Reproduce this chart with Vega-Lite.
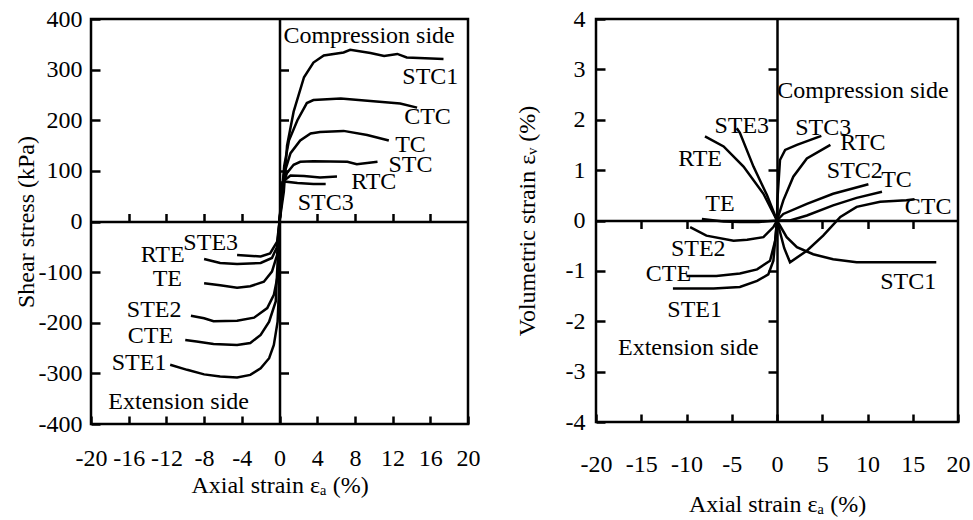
{
  "$schema": "https://vega.github.io/schema/vega-lite/v6.json",
  "autosize": {"type": "pad"},
  "padding": {"left": 12, "top": 5, "right": 0, "bottom": 0},
  "background": "white",
  "spacing": 128,
  "bounds": "flush",
  "config": {
    "view": {"stroke": "black", "strokeWidth": 2.5},
    "axis": {
      "grid": false,
      "labelFont": "Liberation Serif",
      "labelFontSize": 24,
      "labelColor": "black",
      "labelOverlap": false,
      "labelFlush": false,
      "labelExpr": "datum.value + ''",
      "titleFont": "Liberation Serif",
      "titleFontSize": 24,
      "titleFontWeight": "normal",
      "titleColor": "black",
      "tickColor": "black",
      "tickWidth": 2.5,
      "domainColor": "black",
      "domainWidth": 2.5
    },
    "text": {"font": "Liberation Serif", "fontSize": 24, "color": "black"}
  },
  "datasets": {
    "stress": [
      {"test": "STC1", "ax": 0, "q": 0}, {"test": "STC1", "ax": 0.46, "q": 59}, {"test": "STC1", "ax": 0.8, "q": 150}, {"test": "STC1", "ax": 1.5, "q": 217}, {"test": "STC1", "ax": 2.6, "q": 285}, {"test": "STC1", "ax": 3.6, "q": 314}, {"test": "STC1", "ax": 4.7, "q": 328}, {"test": "STC1", "ax": 6.8, "q": 334}, {"test": "STC1", "ax": 7.5, "q": 339}, {"test": "STC1", "ax": 9.65, "q": 333}, {"test": "STC1", "ax": 11.1, "q": 327}, {"test": "STC1", "ax": 12.5, "q": 331}, {"test": "STC1", "ax": 13.5, "q": 324}, {"test": "STC1", "ax": 17.4, "q": 321},
      {"test": "CTC", "ax": 0, "q": 0}, {"test": "CTC", "ax": 0.5, "q": 110}, {"test": "CTC", "ax": 1.0, "q": 160}, {"test": "CTC", "ax": 1.9, "q": 200}, {"test": "CTC", "ax": 2.9, "q": 234}, {"test": "CTC", "ax": 3.6, "q": 240}, {"test": "CTC", "ax": 6.5, "q": 243}, {"test": "CTC", "ax": 9.65, "q": 238}, {"test": "CTC", "ax": 12.8, "q": 233}, {"test": "CTC", "ax": 14.6, "q": 225},
      {"test": "TC", "ax": 0, "q": 0}, {"test": "TC", "ax": 0.46, "q": 92}, {"test": "TC", "ax": 1.17, "q": 135}, {"test": "TC", "ax": 2.2, "q": 160}, {"test": "TC", "ax": 3.3, "q": 174}, {"test": "TC", "ax": 4.3, "q": 177}, {"test": "TC", "ax": 6.8, "q": 179}, {"test": "TC", "ax": 9.3, "q": 171}, {"test": "TC", "ax": 11.6, "q": 160},
      {"test": "STC", "ax": 0, "q": 0}, {"test": "STC", "ax": 0.4, "q": 75}, {"test": "STC", "ax": 0.8, "q": 96}, {"test": "STC", "ax": 1.5, "q": 112}, {"test": "STC", "ax": 2.2, "q": 118}, {"test": "STC", "ax": 3.6, "q": 119}, {"test": "STC", "ax": 7.2, "q": 118}, {"test": "STC", "ax": 8.2, "q": 113}, {"test": "STC", "ax": 10.4, "q": 118},
      {"test": "RTC", "ax": 0, "q": 0}, {"test": "RTC", "ax": 0.3, "q": 78}, {"test": "RTC", "ax": 1.17, "q": 91}, {"test": "RTC", "ax": 2.6, "q": 90}, {"test": "RTC", "ax": 4.3, "q": 87}, {"test": "RTC", "ax": 6.1, "q": 89},
      {"test": "STC3", "ax": 0, "q": 0}, {"test": "STC3", "ax": 0.46, "q": 79}, {"test": "STC3", "ax": 1.9, "q": 76}, {"test": "STC3", "ax": 3.6, "q": 74}, {"test": "STC3", "ax": 4.9, "q": 74},
      {"test": "STE3", "ax": -4.5, "q": -66}, {"test": "STE3", "ax": -2.0, "q": -69}, {"test": "STE3", "ax": -1.0, "q": -63}, {"test": "STE3", "ax": -0.25, "q": -40}, {"test": "STE3", "ax": 0, "q": 0},
      {"test": "RTE", "ax": -8.0, "q": -74}, {"test": "RTE", "ax": -6.3, "q": -82}, {"test": "RTE", "ax": -4.5, "q": -84}, {"test": "RTE", "ax": -2.0, "q": -82}, {"test": "RTE", "ax": -0.8, "q": -72}, {"test": "RTE", "ax": -0.25, "q": -50}, {"test": "RTE", "ax": 0, "q": 0},
      {"test": "TE", "ax": -8.0, "q": -122}, {"test": "TE", "ax": -6.3, "q": -126}, {"test": "TE", "ax": -4.5, "q": -131}, {"test": "TE", "ax": -3.1, "q": -128}, {"test": "TE", "ax": -1.66, "q": -119}, {"test": "TE", "ax": -0.8, "q": -99}, {"test": "TE", "ax": -0.25, "q": -66}, {"test": "TE", "ax": 0, "q": 0},
      {"test": "STE2", "ax": -9.4, "q": -186}, {"test": "STE2", "ax": -8.0, "q": -191}, {"test": "STE2", "ax": -7.0, "q": -197}, {"test": "STE2", "ax": -4.5, "q": -196}, {"test": "STE2", "ax": -2.7, "q": -190}, {"test": "STE2", "ax": -1.3, "q": -171}, {"test": "STE2", "ax": -0.6, "q": -145}, {"test": "STE2", "ax": -0.1, "q": -99}, {"test": "STE2", "ax": 0, "q": 0},
      {"test": "CTE", "ax": -10.0, "q": -234}, {"test": "CTE", "ax": -8.8, "q": -237}, {"test": "CTE", "ax": -7.0, "q": -242}, {"test": "CTE", "ax": -4.5, "q": -244}, {"test": "CTE", "ax": -3.1, "q": -240}, {"test": "CTE", "ax": -2.0, "q": -224}, {"test": "CTE", "ax": -1.1, "q": -198}, {"test": "CTE", "ax": -0.4, "q": -158}, {"test": "CTE", "ax": 0, "q": 0},
      {"test": "STE1", "ax": -11.6, "q": -283}, {"test": "STE1", "ax": -9.8, "q": -293}, {"test": "STE1", "ax": -8.0, "q": -302}, {"test": "STE1", "ax": -6.3, "q": -306}, {"test": "STE1", "ax": -4.5, "q": -308}, {"test": "STE1", "ax": -3.1, "q": -303}, {"test": "STE1", "ax": -2.0, "q": -290}, {"test": "STE1", "ax": -1.1, "q": -270}, {"test": "STE1", "ax": -0.6, "q": -244}, {"test": "STE1", "ax": -0.2, "q": -198}, {"test": "STE1", "ax": -0.05, "q": -132}, {"test": "STE1", "ax": 0, "q": 0}
    ],
    "stressLabels": [
      {"label": "Compression side", "ax": 9.5, "q": 366},
      {"label": "STC1", "ax": 16.0, "q": 285},
      {"label": "CTC", "ax": 15.7, "q": 207},
      {"label": "TC", "ax": 13.9, "q": 152},
      {"label": "STC", "ax": 13.9, "q": 112},
      {"label": "RTC", "ax": 10.0, "q": 79},
      {"label": "STC3", "ax": 4.9, "q": 36},
      {"label": "STE3", "ax": -7.3, "q": -43},
      {"label": "RTE", "ax": -12.4, "q": -66},
      {"label": "TE", "ax": -11.9, "q": -113},
      {"label": "STE2", "ax": -13.3, "q": -175},
      {"label": "CTE", "ax": -13.7, "q": -227},
      {"label": "STE1", "ax": -14.9, "q": -280},
      {"label": "Extension side", "ax": -10.7, "q": -356}
    ],
    "vol": [
      {"test": "STE3", "ax": -4.45, "ev": 1.83}, {"test": "STE3", "ax": -4.1, "ev": 1.74}, {"test": "STE3", "ax": -2.6, "ev": 1.07}, {"test": "STE3", "ax": -1.1, "ev": 0.5}, {"test": "STE3", "ax": 0, "ev": 0},
      {"test": "RTE", "ax": -7.96, "ev": 1.67}, {"test": "RTE", "ax": -5.9, "ev": 1.47}, {"test": "RTE", "ax": -3.7, "ev": 1.07}, {"test": "RTE", "ax": -1.5, "ev": 0.53}, {"test": "RTE", "ax": 0, "ev": 0},
      {"test": "TE", "ax": -8.3, "ev": 0.03}, {"test": "TE", "ax": -5.9, "ev": -0.02}, {"test": "TE", "ax": -4.1, "ev": -0.03}, {"test": "TE", "ax": -2.0, "ev": -0.03}, {"test": "TE", "ax": 0, "ev": 0},
      {"test": "STE2", "ax": -9.6, "ev": -0.13}, {"test": "STE2", "ax": -7.8, "ev": -0.3}, {"test": "STE2", "ax": -4.8, "ev": -0.4}, {"test": "STE2", "ax": -3.3, "ev": -0.38}, {"test": "STE2", "ax": -1.5, "ev": -0.33}, {"test": "STE2", "ax": -0.4, "ev": -0.13}, {"test": "STE2", "ax": 0, "ev": 0},
      {"test": "CTE", "ax": -10.0, "ev": -1.1}, {"test": "CTE", "ax": -6.7, "ev": -1.1}, {"test": "CTE", "ax": -4.1, "ev": -1.05}, {"test": "CTE", "ax": -2.2, "ev": -0.97}, {"test": "CTE", "ax": -0.77, "ev": -0.8}, {"test": "CTE", "ax": -0.2, "ev": -0.4}, {"test": "CTE", "ax": 0, "ev": 0},
      {"test": "STE1", "ax": -11.5, "ev": -1.35}, {"test": "STE1", "ax": -7.0, "ev": -1.35}, {"test": "STE1", "ax": -4.1, "ev": -1.32}, {"test": "STE1", "ax": -2.2, "ev": -1.2}, {"test": "STE1", "ax": -0.96, "ev": -1.07}, {"test": "STE1", "ax": -0.4, "ev": -0.8}, {"test": "STE1", "ax": 0, "ev": 0},
      {"test": "STC3", "ax": 0, "ev": 0}, {"test": "STC3", "ax": 0.04, "ev": 0.4}, {"test": "STC3", "ax": 0.33, "ev": 1.2}, {"test": "STC3", "ax": 0.9, "ev": 1.4}, {"test": "STC3", "ax": 2.2, "ev": 1.5}, {"test": "STC3", "ax": 4.9, "ev": 1.68},
      {"test": "RTC", "ax": 0, "ev": 0}, {"test": "RTC", "ax": 0.7, "ev": 0.4}, {"test": "RTC", "ax": 1.8, "ev": 0.87}, {"test": "RTC", "ax": 3.3, "ev": 1.23}, {"test": "RTC", "ax": 5.9, "ev": 1.5},
      {"test": "STC2", "ax": 0, "ev": 0}, {"test": "STC2", "ax": 0.7, "ev": 0.13}, {"test": "STC2", "ax": 3.3, "ev": 0.33}, {"test": "STC2", "ax": 6.2, "ev": 0.53}, {"test": "STC2", "ax": 10.1, "ev": 0.72},
      {"test": "TC", "ax": 0, "ev": 0}, {"test": "TC", "ax": 1.44, "ev": 0.0}, {"test": "TC", "ax": 3.3, "ev": 0.1}, {"test": "TC", "ax": 6.2, "ev": 0.3}, {"test": "TC", "ax": 8.8, "ev": 0.45}, {"test": "TC", "ax": 11.6, "ev": 0.57},
      {"test": "CTC", "ax": 0, "ev": 0}, {"test": "CTC", "ax": 0.8, "ev": -0.55}, {"test": "CTC", "ax": 1.44, "ev": -0.83}, {"test": "CTC", "ax": 3.3, "ev": -0.6}, {"test": "CTC", "ax": 5.1, "ev": -0.3}, {"test": "CTC", "ax": 7.0, "ev": 0.07}, {"test": "CTC", "ax": 8.8, "ev": 0.27}, {"test": "CTC", "ax": 11.4, "ev": 0.37}, {"test": "CTC", "ax": 14.3, "ev": 0.4}, {"test": "CTC", "ax": 15.2, "ev": 0.42},
      {"test": "STC1", "ax": 0, "ev": 0}, {"test": "STC1", "ax": 1.07, "ev": -0.33}, {"test": "STC1", "ax": 2.2, "ev": -0.53}, {"test": "STC1", "ax": 4.0, "ev": -0.67}, {"test": "STC1", "ax": 6.2, "ev": -0.77}, {"test": "STC1", "ax": 8.8, "ev": -0.83}, {"test": "STC1", "ax": 17.6, "ev": -0.83}
    ],
    "volLabels": [
      {"label": "Compression side", "ax": 9.5, "ev": 2.57},
      {"label": "STE3", "ax": -3.9, "ev": 1.87},
      {"label": "RTE", "ax": -8.5, "ev": 1.23},
      {"label": "TE", "ax": -6.3, "ev": 0.32},
      {"label": "STC3", "ax": 5.1, "ev": 1.83},
      {"label": "RTC", "ax": 9.5, "ev": 1.53},
      {"label": "STC2", "ax": 8.6, "ev": 0.99},
      {"label": "TC", "ax": 13.2, "ev": 0.8},
      {"label": "CTC", "ax": 16.7, "ev": 0.27},
      {"label": "STE2", "ax": -8.7, "ev": -0.57},
      {"label": "CTE", "ax": -12.0, "ev": -1.07},
      {"label": "STE1", "ax": -9.1, "ev": -1.77},
      {"label": "Extension side", "ax": -9.8, "ev": -2.53},
      {"label": "STC1", "ax": 14.5, "ev": -1.23}
    ]
  },
  "hconcat": [
    {
      "width": 377,
      "height": 405,
      "resolve": {"axis": {"x": "independent", "y": "independent"}},
      "layer": [
        {
          "data": {"name": "stress"},
          "mark": {"type": "line", "color": "black", "strokeWidth": 2.5},
          "encoding": {
            "x": {"field": "ax", "type": "quantitative", "scale": {"domain": [-20, 20], "nice": false},
              "axis": {"orient": "bottom", "values": [-20, -16, -12, -8, -4, 0, 4, 8, 12, 16, 20], "tickSize": -8, "labelPadding": 30, "domain": false, "title": "Axial strain εₐ (%)", "titlePadding": 3}},
            "y": {"field": "q", "type": "quantitative", "scale": {"domain": [-400, 400], "nice": false},
              "axis": {"orient": "left", "values": [-400, -300, -200, -100, 0, 100, 200, 300, 400], "tickSize": -9, "labelPadding": 18, "domain": false, "title": "Shear stress (kPa)", "titlePadding": 0}},
            "detail": {"field": "test"}
          }
        },
        {
          "data": {"name": "stressLabels"},
          "mark": {"type": "text", "align": "center", "baseline": "middle"},
          "encoding": {
            "x": {"field": "ax", "type": "quantitative", "scale": {"domain": [-20, 20], "nice": false},
              "axis": {"orient": "bottom", "offset": -202.5, "values": [-16, -12, -8, -4, 4, 8, 12, 16], "tickSize": -8, "labels": false, "title": null}},
            "y": {"field": "q", "type": "quantitative", "scale": {"domain": [-400, 400], "nice": false},
              "axis": {"orient": "left", "offset": -188.5, "values": [-300, -200, -100, 100, 200, 300], "tickSize": -9, "labels": false, "title": null}},
            "text": {"field": "label"}
          }
        }
      ]
    },
    {
      "width": 362,
      "height": 403,
      "resolve": {"axis": {"x": "independent", "y": "independent"}},
      "layer": [
        {
          "data": {"name": "vol"},
          "mark": {"type": "line", "color": "black", "strokeWidth": 2.5},
          "encoding": {
            "x": {"field": "ax", "type": "quantitative", "scale": {"domain": [-20, 20], "nice": false},
              "axis": {"orient": "bottom", "values": [-20, -15, -10, -5, 0, 5, 10, 15, 20], "tickSize": -8, "labelPadding": 38, "domain": false, "title": "Axial strain εₐ (%)", "titlePadding": 16}},
            "y": {"field": "ev", "type": "quantitative", "scale": {"domain": [-4, 4], "nice": false},
              "axis": {"orient": "left", "values": [-4, -3, -2, -1, 0, 1, 2, 3, 4], "tickSize": -9, "labelPadding": 20, "domain": false, "title": "Volumetric strain εᵥ (%)", "titlePadding": 26}},
            "detail": {"field": "test"}
          }
        },
        {
          "data": {"name": "volLabels"},
          "mark": {"type": "text", "align": "center", "baseline": "middle"},
          "encoding": {
            "x": {"field": "ax", "type": "quantitative", "scale": {"domain": [-20, 20], "nice": false},
              "axis": {"orient": "bottom", "offset": -201.5, "values": [-15, -10, -5, 5, 10, 15], "tickSize": 8, "labels": false, "title": null}},
            "y": {"field": "ev", "type": "quantitative", "scale": {"domain": [-4, 4], "nice": false},
              "axis": {"orient": "left", "offset": -181, "values": [-3, -2, -1, 1, 2, 3], "tickSize": 9, "labels": false, "title": null}},
            "text": {"field": "label"}
          }
        }
      ]
    }
  ]
}
